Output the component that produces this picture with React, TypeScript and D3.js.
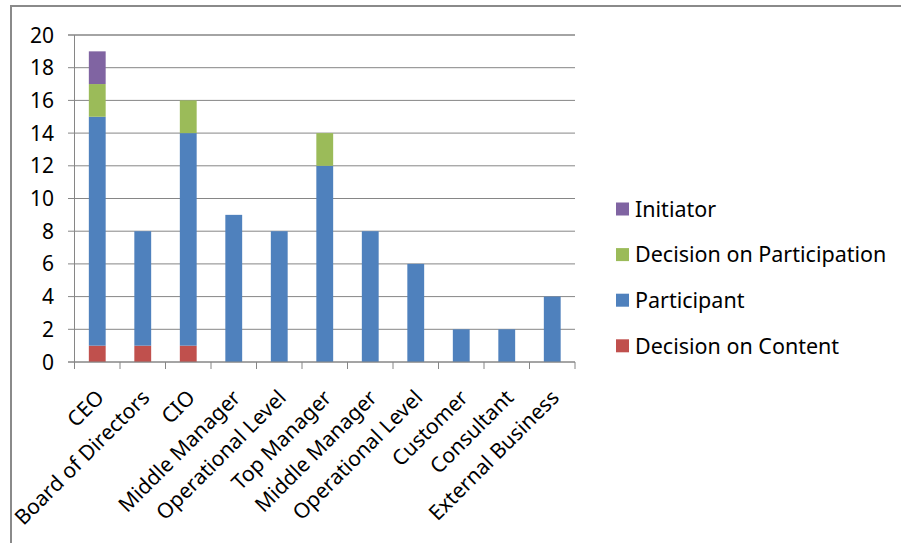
import React from "react";
import * as d3 from "d3";

const categories = [
  "CEO",
  "Board of Directors",
  "CIO",
  "Middle Manager",
  "Operational Level",
  "Top Manager",
  "Middle Manager",
  "Operational Level",
  "Customer",
  "Consultant",
  "External Business",
];

const decisionOnContent = [1, 1, 1, 0, 0, 0, 0, 0, 0, 0, 0];
const participant = [14, 7, 13, 9, 8, 12, 8, 6, 2, 2, 4];
const decisionOnParticipation = [2, 0, 2, 0, 0, 2, 0, 0, 0, 0, 0];
const initiator = [2, 0, 0, 0, 0, 0, 0, 0, 0, 0, 0];

const seriesNames = ["Decision on Content", "Participant", "Decision on Participation", "Initiator"];
const seriesValues = [decisionOnContent, participant, decisionOnParticipation, initiator];
const seriesColors = ["#C0504D", "#4F81BD", "#9BBB59", "#8064A2"];

const yTicks = [0, 2, 4, 6, 8, 10, 12, 14, 16, 18, 20];

const W = 902;
const H = 543;
const FONT = "'Noto Sans', 'Open Sans', sans-serif";

export default function App() {
  const left = 74.5;
  const right = 575;
  const top = 35;
  const bottom = 362;

  const x = d3
    .scaleBand<number>()
    .domain(categories.map((_, i) => i))
    .range([left, right])
    .paddingInner(0.63)
    .paddingOuter(0.315);
  const xb = d3.scaleBand<number>().domain(categories.map((_, i) => i)).range([left, right]);
  const y = d3.scaleLinear().domain([0, 20]).range([bottom, top]);

  const table = categories.map((c, i) => {
    const row: Record<string, number> = { idx: i };
    seriesNames.forEach((s, k) => (row[s] = seriesValues[k][i]));
    return row;
  });
  const stacked = d3.stack<Record<string, number>>().keys(seriesNames)(table);

  const legendOrder = [3, 2, 1, 0];
  const legendY0 = 209;
  const legendStep = 45.6;

  return (
    <svg
      width={W}
      height={H}
      style={{ position: "absolute", left: 0, top: 0, background: "#fff" }}
      fontFamily={FONT}
    >
      <rect x={0} y={0} width={W} height={H} fill="#fff" />
      {/* chart border */}
      <line x1={11} x2={11} y1={6} y2={H} stroke="#8a8a8a" strokeWidth={2} />
      <line x1={10} x2={901} y1={6} y2={6} stroke="#8a8a8a" strokeWidth={2} />

      {/* gridlines */}
      {yTicks.map((t) => (
        <line
          key={"g" + t}
          x1={68}
          x2={right}
          y1={y(t)}
          y2={y(t)}
          stroke="#868686"
          strokeWidth={t === 20 ? 1.6 : 1}
        />
      ))}
      {/* y axis */}
      <line x1={left} x2={left} y1={top} y2={bottom} stroke="#868686" strokeWidth={1} />
      {yTicks.map((t) => (
        <text
          key={"yl" + t}
          x={54}
          y={y(t)}
          dy="0.36em"
          textAnchor="end"
          fontSize={21}
          fill="#000"
        >
          {t}
        </text>
      ))}

      {/* bars */}
      {stacked.map((layer, k) =>
        layer.map((d, i) =>
          d[1] - d[0] > 0 ? (
            <rect
              key={"b" + k + "-" + i}
              x={x(i)}
              y={y(d[1])}
              width={x.bandwidth()}
              height={y(d[0]) - y(d[1])}
              fill={seriesColors[k]}
            />
          ) : null
        )
      )}

      {/* x axis */}
      <line x1={68} x2={right} y1={bottom} y2={bottom} stroke="#868686" strokeWidth={1} />
      {categories.map((_, i) => (
        <line
          key={"xt" + i}
          x1={xb(i)!}
          x2={xb(i)!}
          y1={bottom}
          y2={bottom + 7}
          stroke="#868686"
        />
      ))}
      <line x1={right} x2={right} y1={bottom} y2={bottom + 7} stroke="#868686" />
      {categories.map((c, i) => {
        const cx = xb(i)! + xb.bandwidth() / 2;
        return (
          <text
            key={"xl" + i}
            transform={`translate(${cx + 8},${bottom + 37}) rotate(-45)`}
            textAnchor="end"
            fontSize={21}
            fill="#000"
          >
            {c}
          </text>
        );
      })}

      {/* legend */}
      {legendOrder.map((k, j) => {
        const cy = legendY0 + j * legendStep;
        return (
          <g key={"lg" + k}>
            <rect x={616} y={cy - 6.5} width={13} height={13} fill={seriesColors[k]} />
            <text x={635} y={cy} dy="0.36em" fontSize={21.5} fill="#000">
              {seriesNames[k]}
            </text>
          </g>
        );
      })}
    </svg>
  );
}
